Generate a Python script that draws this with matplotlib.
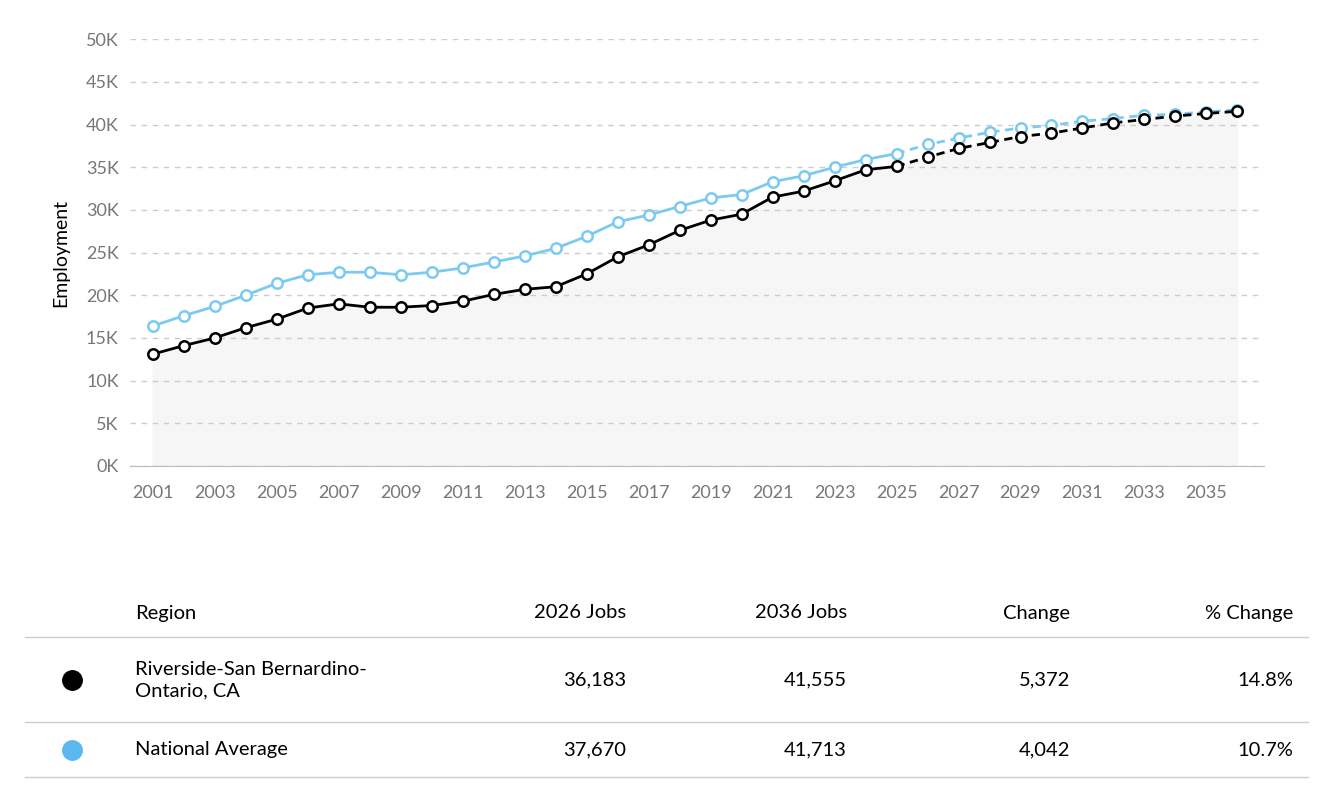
import matplotlib
matplotlib.use("Agg")
import matplotlib.pyplot as plt

plt.rcParams['font.family'] = ['Lato', 'DejaVu Sans']

years = list(range(2001, 2037))
region = [13.1, 14.1, 15.0, 16.2, 17.2, 18.5, 19.0, 18.6, 18.6, 18.8, 19.3, 20.1,
          20.7, 21.0, 22.5, 24.5, 25.9, 27.6, 28.8, 29.5, 31.5, 32.2, 33.4, 34.7,
          35.1, 36.183, 37.2, 37.9, 38.6, 39.0, 39.6, 40.2, 40.6, 41.0, 41.3, 41.555]
national = [16.4, 17.6, 18.7, 20.0, 21.4, 22.4, 22.7, 22.7, 22.4, 22.7, 23.2, 23.9,
            24.6, 25.5, 26.9, 28.6, 29.4, 30.4, 31.4, 31.8, 33.3, 34.0, 35.0, 35.9,
            36.6, 37.67, 38.4, 39.1, 39.6, 39.9, 40.4, 40.7, 41.1, 41.2, 41.5, 41.713]
split = 2025

table_header = ["Region", "2026 Jobs", "2036 Jobs", "Change", "% Change"]
table_rows = [
    ["Riverside-San Bernardino-\nOntario, CA", "36,183", "41,555", "5,372", "14.8%"],
    ["National Average", "37,670", "41,713", "4,042", "10.7%"],
]
row_colors = ["black", "#5bb8ef"]

fig = plt.figure(figsize=(13.38, 8), dpi=100)
ax = fig.add_axes([0.097, 0.4175, 0.848, 0.5335])

ax.fill_between(years, 0, region, color="#f6f6f6", zorder=0)
i = years.index(split)
for vals, lc in [(national, "#7ccaf0"), (region, "black")]:
    ax.plot(years[:i + 1], vals[:i + 1], color=lc, lw=2, zorder=2)
    ax.plot(years[i:], vals[i:], color=lc, lw=2, ls=(0, (3, 2)), zorder=2)
    ax.plot(years, vals, ls="none", marker="o", ms=7.5, mfc="white",
            mec=lc, mew=1.8, zorder=3)

ax.set_xlim(2000.26, 2036.87)
ax.set_ylim(0, 50)
ax.set_yticks(range(0, 51, 5))
ax.set_yticklabels([f"{v}K" for v in range(0, 51, 5)])
ax.set_xticks(range(2001, 2037, 2))
ax.tick_params(colors="#777777", labelsize=13, length=0)
ax.tick_params(axis="x", pad=14)
ax.tick_params(axis="y", pad=8)
ax.grid(axis="y", color="#cccccc", ls=(0, (4, 4)), lw=1)
ax.set_axisbelow(True)
for s in ["top", "right", "left"]:
    ax.spines[s].set_visible(False)
ax.spines["bottom"].set_color("#bbbbbb")
ax.set_ylabel("Employment", fontsize=14, color="black", labelpad=12)

# table
cols_x = [135 / 1338, 626 / 1338, 847 / 1338, 1070 / 1338, 1293 / 1338]
aligns = ["left", "right", "right", "right", "right"]
hy = 1 - 613 / 800
for x, t, a in zip(cols_x, table_header, aligns):
    fig.text(x, hy, t, ha=a, va="center", fontsize=14.5)
for yl in [637, 722, 777]:
    fig.add_artist(plt.Line2D([25 / 1338, 1308 / 1338], [1 - yl / 800] * 2, color="#cccccc", lw=1))
row_y = [1 - 680 / 800, 1 - 750 / 800]
for ry, row, c in zip(row_y, table_rows, row_colors):
    fig.add_artist(plt.Line2D([72 / 1338], [ry], marker="o", ms=14, color=c, ls="none"))
    for x, t, a in zip(cols_x, row, aligns):
        fig.text(x, ry, t, ha=a, va="center", fontsize=14.5, linespacing=1.3)

fig.savefig("out.png")
